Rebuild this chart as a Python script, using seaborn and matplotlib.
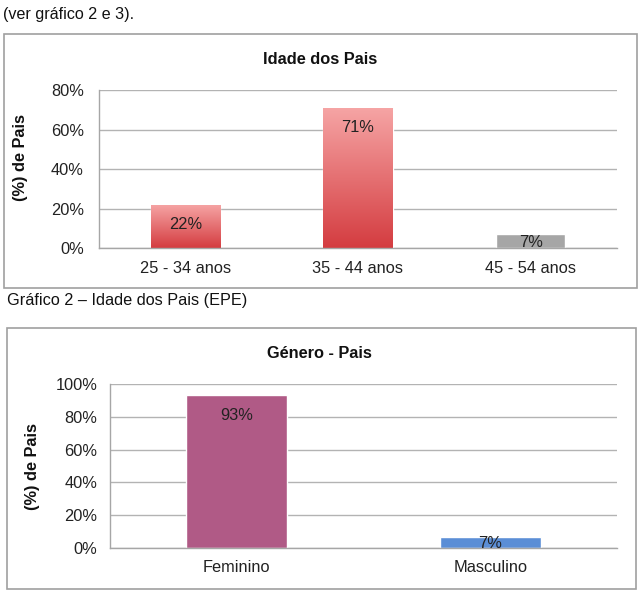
import matplotlib
matplotlib.use("Agg")
import matplotlib.pyplot as plt
import seaborn as sns
import numpy as np
from matplotlib.patches import Rectangle
from matplotlib.ticker import PercentFormatter, FixedLocator
from matplotlib.colors import LinearSegmentedColormap

# ---- data ----
age_categories = ["25 - 34 anos", "35 - 44 anos", "45 - 54 anos"]
age_values = [0.22, 0.71, 0.07]
age_ticks = [0.0, 0.2, 0.4, 0.6, 0.8]

gender_categories = ["Feminino", "Masculino"]
gender_values = [0.93, 0.07]
gender_ticks = [0.0, 0.2, 0.4, 0.6, 0.8, 1.0]

sns.set_theme(style="white")
plt.rcParams['font.family'] = ['Liberation Sans', 'DejaVu Sans']

FS = 11.8
W, H = 642, 601
fig = plt.figure(figsize=(W / 100, H / 100), dpi=100)
fig.patch.set_facecolor("white")

def px_box(x0, y0, x1, y1):
    return (x0 / W, 1 - y1 / H, (x1 - x0) / W, (y1 - y0) / H)

# outer frames
for (x0, y0, x1, y1) in [(4, 34, 637, 288), (7, 328, 636, 589)]:
    l, b, w, h = px_box(x0, y0, x1, y1)
    fig.patches.append(Rectangle((l, b), w, h, transform=fig.transFigure,
                                 fill=False, edgecolor="#a0a0a0", linewidth=1.2))

fig.text(3 / W, 1 - 15 / H, "(ver gráfico 2 e 3).", fontsize=11.6,
         ha="left", va="center", color="#111")
fig.text(7 / W, 1 - 300 / H, "Gráfico 2 – Idade dos Pais (EPE)", fontsize=11.7,
         ha="left", va="center", color="#111")


def style_axes(ax, ticks, ymax, ylabel, lab_x, lab_y, ypad):
    ax.set_ylim(0, ymax)
    ax.yaxis.set_major_locator(FixedLocator(ticks))
    ax.yaxis.set_major_formatter(PercentFormatter(1.0, decimals=0))
    ax.grid(axis="y", color="#b3b3b3", linewidth=1.0)
    ax.set_axisbelow(True)
    for s in ["top", "right"]:
        ax.spines[s].set_visible(False)
    for s in ["left", "bottom"]:
        ax.spines[s].set_color("#a6a6a6")
        ax.spines[s].set_linewidth(1.0)
    ax.tick_params(axis="both", length=0, labelsize=FS, colors="#222")
    ax.tick_params(axis="y", pad=ypad)
    ax.tick_params(axis="x", pad=9)
    ax.set_xlabel("")
    ax.set_ylabel(ylabel, fontsize=FS, fontweight="bold", color="#111")
    ax.yaxis.set_label_coords(lab_x, lab_y)


def add_labels(ax, values):
    fig.canvas.draw()
    for p, v in zip(ax.patches, values):
        x = p.get_x() + p.get_width() / 2
        top = ax.transData.transform((x, v))[1]
        bot = ax.transData.transform((x, 0))[1]
        hpx = top - bot
        off = min(20, hpx / 2 + 1)
        ax.annotate(f"{round(v * 100):d}%", xy=(x, v), xytext=(0, -off),
                    textcoords="offset pixels", ha="center", va="center",
                    fontsize=FS, color="#222")


# ---- chart 1 ----
ax1 = fig.add_axes(px_box(99, 90, 617, 248))
sns.barplot(x=age_categories, y=age_values, hue=age_categories,
            palette=["#dc5a5a", "#dc5a5a", "#a6a6a6"], width=0.4,
            legend=False, ax=ax1, saturation=1)
style_axes(ax1, age_ticks, 0.8, "(%) de Pais", -0.137, 0.57, 11)
cmap = LinearSegmentedColormap.from_list("red", ["#d43c40", "#f6a5a5"])
grad = np.linspace(0, 1, 256).reshape(-1, 1)
for p, v in zip(ax1.patches[:2], age_values[:2]):
    x0 = p.get_x()
    im = ax1.imshow(grad, cmap=cmap, origin="lower", aspect="auto",
                    extent=(x0, x0 + p.get_width(), 0, v), zorder=p.get_zorder())
    im.set_clip_path(p)
ax1.set_xlim(-0.5, 2.5)
ax1.set_ylim(0, 0.8)
fig.text(0.498, 1 - 60 / H, "Idade dos Pais", fontsize=FS, fontweight="bold",
         ha="center", va="center", color="#111")
add_labels(ax1, age_values)

# ---- chart 2 ----
ax2 = fig.add_axes(px_box(110, 384, 617, 548))
sns.barplot(x=gender_categories, y=gender_values, hue=gender_categories,
            palette=["#b05a86", "#5b8ed6"], width=0.4, legend=False,
            ax=ax2, saturation=1)
style_axes(ax2, gender_ticks, 1.0, "(%) de Pais", -0.138, 0.494, 9)
ax2.set_xlim(-0.5, 1.5)
fig.text(0.498, 1 - 353 / H, "Género - Pais", fontsize=FS, fontweight="bold",
         ha="center", va="center", color="#111")
add_labels(ax2, gender_values)

fig.savefig("out.png", dpi=100, facecolor="white")
